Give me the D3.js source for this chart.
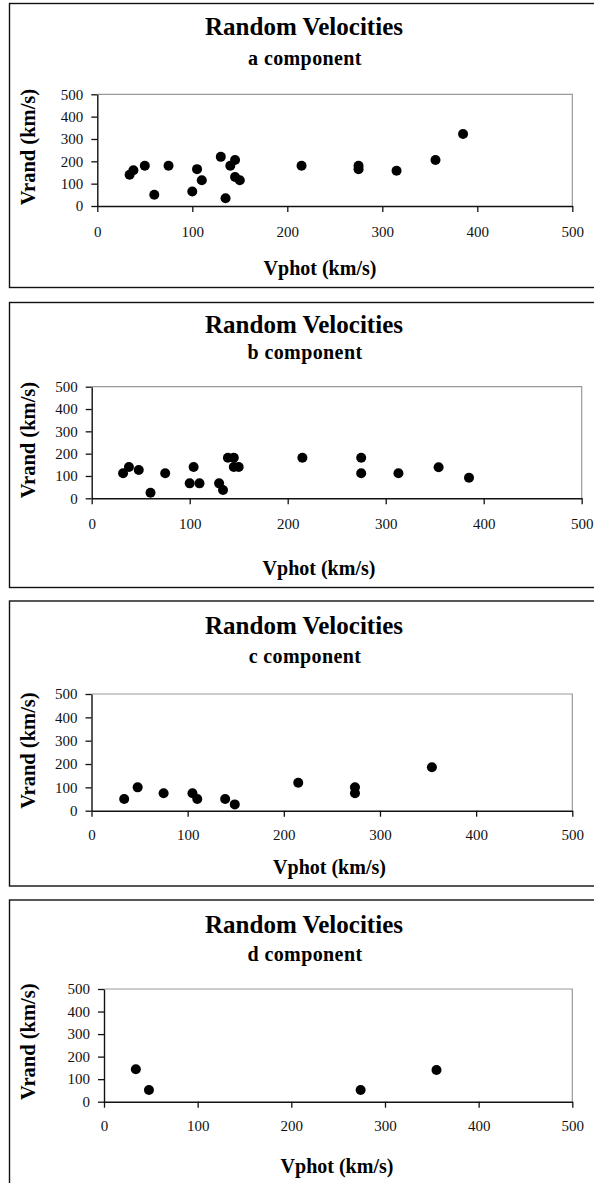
<!DOCTYPE html>
<html>
<head>
<meta charset="utf-8">
<script src="https://cdn.jsdelivr.net/npm/d3@7"></script>
<style>
  body { margin: 0; background: #fff; }
  svg { display: block; font-family: "Liberation Serif", "Times New Roman", serif; }
</style>
</head>
<body>
<svg width="594" height="1183"></svg>
<script>
// ---- data ----
const xTicks = [0, 100, 200, 300, 400, 500];
const yTicks = [0, 100, 200, 300, 400, 500];
const components = ['a', 'b', 'c', 'd'];

const aVphot = [34, 38, 50, 60, 75, 100, 105, 110, 130, 135, 140, 145, 145, 150, 215, 275, 275, 315, 356, 385];
const aVrand = [140, 160, 180, 50, 180, 65, 165, 115, 220, 35, 180, 206, 130, 115, 180, 180, 165, 158, 206, 322];

const bVphot = [32, 38, 48, 60, 75, 100, 104, 110, 130, 134, 139, 145, 145, 150, 215, 275, 275, 313, 354, 385];
const bVrand = [112, 140, 127, 25, 112, 67, 140, 67, 67, 37, 182, 182, 140, 140, 182, 182, 112, 112, 139, 92];

const cVphot = [34, 48, 75, 105, 110, 139, 149, 215, 274, 274, 354];
const cVrand = [50, 100, 75, 75, 50, 50, 27, 120, 100, 75, 186];

const dVphot = [34, 48, 274, 355];
const dVrand = [144, 52, 52, 141];

const seriesX = [aVphot, bVphot, cVphot, dVphot];
const seriesY = [aVrand, bVrand, cVrand, dVrand];

// ---- layout of each panel (pixels) ----
const layout = [
  { top: 3.5,  bottom: 287.5, left: 97.3,  right: 572.3, pTop: 94.3,  pBottom: 206,   title: 26.7,  sub: 57.7,  xLab: 232.3,  vphot: 268.3,  vphotX: 320,   vrandY: 147 },
  { top: 302.5, bottom: 587.5, left: 91.7, right: 581.7, pTop: 386.7, pBottom: 498.3, title: 324.3, sub: 351.7, xLab: 524.3,  vphot: 568.3,  vphotX: 319,   vrandY: 440 },
  { top: 601,  bottom: 886,   left: 91.5,  right: 572.3, pTop: 694,   pBottom: 810.7, title: 625,   sub: 656,   xLab: 835,    vphot: 866.7,  vphotX: 329.5, vrandY: 750.5 },
  { top: 900,  bottom: 1195,  left: 104,   right: 572.3, pTop: 989,   pBottom: 1101.7, title: 924.3, sub: 954.3, xLab: 1125.7, vphot: 1165.7, vphotX: 337,   vrandY: 1041.7 }
];

const svg = d3.select('svg');

components.forEach((comp, i) => {
  const L = layout[i];
  const g = svg.append('g');

  // outer frame
  g.append('rect')
    .attr('x', 9.5).attr('y', L.top)
    .attr('width', 600).attr('height', L.bottom - L.top)
    .attr('fill', 'none').attr('stroke', '#111').attr('stroke-width', 1.4);

  // titles
  g.append('text')
    .attr('x', 304).attr('y', L.title)
    .attr('text-anchor', 'middle').attr('dominant-baseline', 'central')
    .attr('font-size', 25).attr('font-weight', 'bold')
    .text('Random Velocities');
  g.append('text')
    .attr('x', 305).attr('y', L.sub)
    .attr('text-anchor', 'middle').attr('dominant-baseline', 'central')
    .attr('font-size', 20).attr('font-weight', 'bold').attr('letter-spacing', 0.4)
    .text(comp + ' component');

  // scales
  const x = d3.scaleLinear().domain([0, 500]).range([L.left, L.right]);
  const y = d3.scaleLinear().domain([0, 500]).range([L.pBottom, L.pTop]);

  // plot area border (gray top and right)
  g.append('path')
    .attr('d', `M${L.left},${L.pTop}H${L.right}V${L.pBottom}`)
    .attr('fill', 'none').attr('stroke', '#999').attr('stroke-width', 1.2);

  // axes
  const xPad = (L.xLab - L.pBottom) - 6 - 5.6;
  const xAxis = g.append('g')
    .attr('transform', `translate(0,${L.pBottom})`)
    .call(d3.axisBottom(x).tickValues(xTicks).tickSize(6).tickSizeOuter(0).tickPadding(xPad));
  const yAxis = g.append('g')
    .attr('transform', `translate(${L.left},0)`)
    .call(d3.axisLeft(y).tickValues(yTicks).tickSize(6).tickSizeOuter(0).tickPadding(8));

  [xAxis, yAxis].forEach(ax => {
    ax.attr('font-family', null).attr('font-size', 15);
    ax.select('.domain').attr('stroke', '#111').attr('stroke-width', 1.4);
    ax.selectAll('.tick line').attr('stroke', '#111').attr('stroke-width', 1.3);
    ax.selectAll('.tick text').attr('fill', '#111');
  });

  // axis titles
  g.append('text')
    .attr('x', L.vphotX).attr('y', L.vphot)
    .attr('text-anchor', 'middle').attr('dominant-baseline', 'central')
    .attr('font-size', 20).attr('font-weight', 'bold')
    .text('Vphot (km/s)');
  g.append('text')
    .attr('transform', `translate(28,${L.vrandY}) rotate(-90)`)
    .attr('text-anchor', 'middle').attr('dominant-baseline', 'central')
    .attr('font-size', 20.5).attr('font-weight', 'bold')
    .text('Vrand (km/s)');

  // points
  const pts = seriesX[i].map((v, k) => ({ vphot: v, vrand: seriesY[i][k] }));
  g.append('g').selectAll('circle')
    .data(pts)
    .enter().append('circle')
    .attr('cx', d => x(d.vphot))
    .attr('cy', d => y(d.vrand))
    .attr('r', 5)
    .attr('fill', '#000');
});
</script>
</body>
</html>
